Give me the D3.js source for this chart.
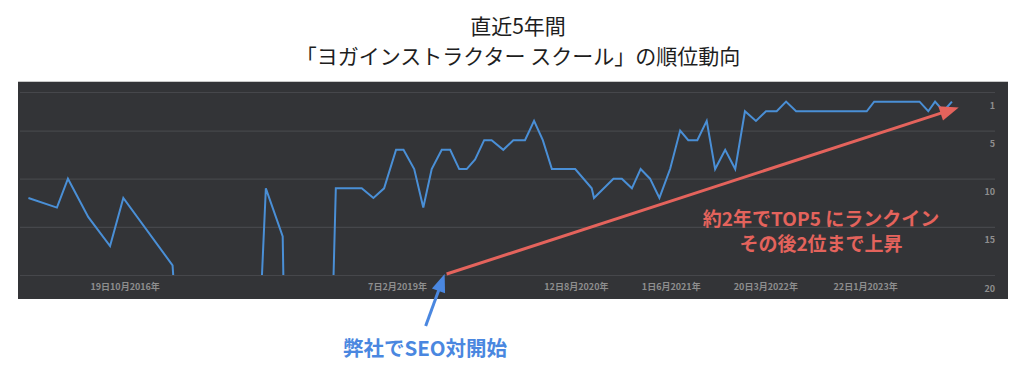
<!DOCTYPE html>
<html><head><meta charset="utf-8">
<script src="https://cdn.jsdelivr.net/npm/d3@7"></script>
<style>
html,body{margin:0;padding:0;background:#fff;}
svg{display:block;}
</style></head><body>
<svg id="chart" width="1024" height="367"></svg>
<script>
// ---- data ----
const titleLines = ["直近5年間", "「ヨガインストラクター スクール」の順位動向"];
const dates = [
 "2015-12-27","2016-03-24","2016-04-27","2016-06-29","2016-09-04","2016-10-15","2017-03-16","2017-03-18",
 "2017-08-01",
 "2017-12-17","2017-12-29","2018-02-19","2018-02-21",
 "2018-05-01",
 "2018-07-26","2018-08-02","2018-10-21","2018-11-26","2018-12-29","2019-02-04","2019-02-27","2019-04-01",
 "2019-04-29","2019-05-25","2019-06-25","2019-07-21","2019-08-18","2019-09-10","2019-10-06","2019-11-03",
 "2019-11-26","2020-01-01","2020-02-01","2020-03-08","2020-04-05","2020-05-02","2020-05-30","2020-08-10",
 "2020-09-30","2020-10-07","2020-12-06","2021-01-01","2021-02-01","2021-02-28","2021-03-29","2021-04-27",
 "2021-05-30","2021-06-30","2021-07-25","2021-08-22","2021-09-20","2021-10-16","2021-11-16","2021-12-17",
 "2022-01-16","2022-02-19","2022-03-22","2022-04-24","2022-05-23","2022-06-23","2023-01-27","2023-02-19",
 "2023-07-09","2023-08-05","2023-08-26","2023-09-21","2023-10-17"
];
const ranks = [
 12,13,10,14,17,12,19,20,
 null,
 20,11,16,20,
 null,
 20,11,11,12,11,7,7,9,
 13,9,7,7,9,9,8,6,
 6,7,6,6,4,6,9,9,
 11,12,10,10,11,9,10,12,
 9,5,6,6,4,9,7,9,
 3,4,3,3,2,3,3,2,
 2,3,2,3,2
];
const xDomain = ["2015-12-01", "2024-02-27"];
const xTickDates = ["2016-10-19","2019-02-07","2020-08-12","2021-06-01","2022-03-20","2023-01-22"];
const yTicks = [1, 5, 10, 15, 20];
const yDomain = [1, 20];
const seoStartDate = "2019-07-04";
const trendStart = {date: "2019-07-10", rank: 19.9};
const trendEnd = {date: "2023-11-07", rank: 2.6};
const noteLines = ["約2年でTOP5 にランクイン", "その後2位まで上昇"];
const seoLabel = "弊社でSEO対開始";

// ---- drawing ----
const parse = d3.utcParse("%Y-%m-%d");
const panel = {x: 18, y: 81, w: 990, h: 218};
const plot = {left: 20, right: 995, top: 92, bottom: 275};
const jp = "'Noto Sans CJK JP','Noto Sans',sans-serif";
const red = "#e4635c", blue = "#4a87e0", lineBlue = "#4a8fd6";

const svg = d3.select("#chart");

const x = d3.scaleUtc().domain(xDomain.map(parse)).range([plot.left, plot.right]);
const y = d3.scaleLinear().domain(yDomain).range([plot.top, plot.bottom]);

// title
svg.selectAll("text.title").data(titleLines).join("text")
  .attr("class", "title")
  .attr("x", 518).attr("y", (d, i) => 34 + i * 30)
  .attr("text-anchor", "middle")
  .attr("font-family", jp).attr("font-size", 21).attr("font-weight", 400)
  .attr("fill", "#1e1e1e").text(d => d);

// panel
svg.append("rect").attr("x", panel.x).attr("y", panel.y).attr("width", panel.w).attr("height", panel.h)
  .attr("fill", "#333437");
svg.append("line").attr("x1", panel.x).attr("x2", panel.x + panel.w).attr("y1", panel.y + 0.5).attr("y2", panel.y + 0.5)
  .attr("stroke", "#c8c8c8").attr("stroke-width", 1);

// y axis (grid + labels on the right)
const yAxis = d3.axisRight(y).tickValues(yTicks).tickSize(-(plot.right - plot.left)).tickPadding(0);
const gy = svg.append("g").attr("transform", `translate(${plot.right},0)`).call(yAxis);
gy.select(".domain").remove();
gy.selectAll(".tick line").attr("stroke", "#46474b").attr("stroke-width", 1.2);
gy.selectAll(".tick text").attr("x", 0).attr("dy", "16px").attr("text-anchor", "end")
  .attr("font-family", jp).attr("font-size", 9).attr("font-weight", 700).attr("fill", "#8e8e8e");

// x axis labels
const fmt = d => `${d.getUTCDate()}日${d.getUTCMonth() + 1}月${d.getUTCFullYear()}年`;
const xAxis = d3.axisBottom(x).tickValues(xTickDates.map(parse)).tickFormat(fmt).tickSize(0).tickPadding(0);
const gx = svg.append("g").attr("transform", `translate(0,${plot.bottom})`).call(xAxis);
gx.select(".domain").remove();
gx.selectAll(".tick text").attr("dy", "15px")
  .attr("font-family", jp).attr("font-size", 9).attr("font-weight", 700).attr("fill", "#8e8e8e");

// rank line
const pts = dates.map((d, i) => ({date: parse(d), rank: ranks[i]}));
const line = d3.line().defined(d => d.rank != null).x(d => x(d.date)).y(d => y(d.rank));
svg.append("path").datum(pts).attr("d", line)
  .attr("fill", "none").attr("stroke", lineBlue).attr("stroke-width", 2).attr("stroke-linejoin", "miter");

// arrow helper
function arrow(x1, y1, x2, y2, color, width, headLen, headW) {
  const dx = x2 - x1, dy = y2 - y1, L = Math.hypot(dx, dy);
  const ux = dx / L, uy = dy / L, px = -uy, py = ux;
  const bx = x2 - ux * headLen, by = y2 - uy * headLen;
  svg.append("line").attr("x1", x1).attr("y1", y1).attr("x2", bx + ux * 2).attr("y2", by + uy * 2)
    .attr("stroke", color).attr("stroke-width", width);
  svg.append("polygon")
    .attr("points", [[x2, y2], [bx + px * headW / 2, by + py * headW / 2], [bx - px * headW / 2, by - py * headW / 2]].map(p => p.join(",")).join(" "))
    .attr("fill", color);
}

// red trend arrow
arrow(x(parse(trendStart.date)), y(trendStart.rank), x(parse(trendEnd.date)), y(trendEnd.rank), red, 3, 19, 15);

// blue SEO-start arrow
const sx = x(parse(seoStartDate)), sy = y(yDomain[1]) - 1;
arrow(sx - 19, sy + 52, sx, sy, blue, 3, 18, 14);

// notes
svg.selectAll("text.note").data(noteLines).join("text")
  .attr("class", "note")
  .attr("x", 821).attr("y", (d, i) => 226 + i * 25)
  .attr("text-anchor", "middle")
  .attr("font-family", jp).attr("font-size", 19).attr("font-weight", 700)
  .attr("fill", red).text(d => d);

svg.append("text").attr("x", 425).attr("y", 356).attr("text-anchor", "middle")
  .attr("font-family", jp).attr("font-size", 20.5).attr("font-weight", 700)
  .attr("fill", blue).text(seoLabel);
</script>
</body></html>
